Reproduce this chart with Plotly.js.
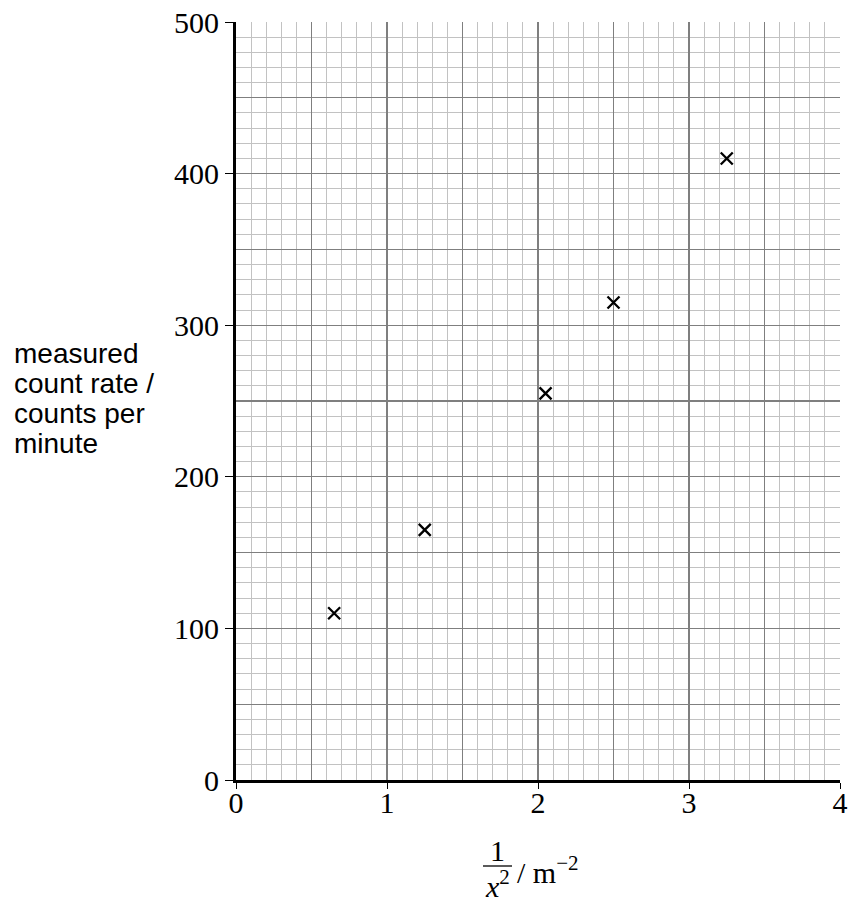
<!DOCTYPE html>
<html>
<head>
<meta charset="utf-8">
<script src="https://cdn.plot.ly/plotly-3.0.1.min.js"></script>
<style>html,body{margin:0;padding:0;background:#fff;}#chart{width:848px;height:902px;}</style>
</head>
<body>
<div id="chart"></div>
<script>
const invDistSq = [0.65, 1.25, 2.05, 2.5, 3.25];
const countRate = [110, 165, 255, 315, 410];
const xTicks = [0, 1, 2, 3, 4];
const yTicks = [0, 100, 200, 300, 400, 500];
const yTitleLines = ['measured', 'count rate /', 'counts per', 'minute'];

const L = 236, R = 8, T = 22, B = 122, W = 848, H = 902;
const pw = W - L - R, ph = H - T - B;
const px = v => (v - L) / pw;
const py = v => (H - B - v) / ph;

const serif = 'Liberation Serif, Times New Roman, serif';
const sans = 'Liberation Sans, Arial, sans-serif';
const majorGrid = '#7f7f7f', minorGrid = '#c2c2c2';

const data = [
  {x: [], y: [], xaxis: 'x2', yaxis: 'y2', type: 'scatter', showlegend: false, hoverinfo: 'skip'},
  {
    x: invDistSq, y: countRate, type: 'scatter', mode: 'markers',
    marker: {symbol: 'x-thin-open', size: 12, color: '#000', line: {color: '#000', width: 2.3}},
    showlegend: false
  }
];

const annotations = yTitleLines.map((t, i) => ({
  xref: 'paper', yref: 'paper', x: px(12), y: py(353 + 30 * i),
  xanchor: 'left', yanchor: 'middle', showarrow: false, text: t,
  font: {family: sans, size: 28, color: '#000'}
}));
annotations.push(
  {xref: 'paper', yref: 'paper', x: px(497.5), y: py(850), xanchor: 'center', yanchor: 'middle',
   showarrow: false, text: '1', font: {family: serif, size: 30, color: '#000'}},
  {xref: 'paper', yref: 'paper', x: px(497.5), y: py(884), xanchor: 'center', yanchor: 'middle',
   showarrow: false, text: '<i>x</i><sup>2</sup>', font: {family: serif, size: 30, color: '#000'}},
  {xref: 'paper', yref: 'paper', x: px(515), y: py(870), xanchor: 'left', yanchor: 'middle',
   showarrow: false, text: '/ m<sup>−2</sup>', font: {family: serif, size: 30, color: '#000'}}
);

const layout = {
  width: W, height: H,
  margin: {l: L, r: R, t: T, b: B},
  paper_bgcolor: '#fff', plot_bgcolor: '#fff',
  showlegend: false,
  xaxis: {
    range: [0, 4], tickvals: xTicks, ticktext: xTicks.map(String),
    showgrid: true, gridcolor: majorGrid, gridwidth: 1.3,
    minor: {dtick: 0.1, showgrid: true, gridcolor: minorGrid, gridwidth: 1},
    showline: true, linecolor: '#000', linewidth: 3,
    ticks: 'outside', ticklen: 6, tickcolor: '#000', tickwidth: 1,
    ticklabelstandoff: -12,
    tickfont: {family: serif, size: 30, color: '#000'},
    zeroline: false, fixedrange: true
  },
  yaxis: {
    range: [0, 500], tickvals: yTicks, ticktext: yTicks.map(String),
    showgrid: true, gridcolor: majorGrid, gridwidth: 1.3,
    minor: {dtick: 10, showgrid: true, gridcolor: minorGrid, gridwidth: 1},
    showline: true, linecolor: '#000', linewidth: 3,
    ticks: 'outside', ticklen: 8, tickcolor: '#000', tickwidth: 1,
    tickfont: {family: serif, size: 30, color: '#000'},
    zeroline: false, fixedrange: true
  },
  xaxis2: {
    overlaying: 'x', range: [0, 4], dtick: 0.5, showgrid: true,
    gridcolor: majorGrid, gridwidth: 1.3, showticklabels: false, ticks: '',
    zeroline: false, fixedrange: true
  },
  yaxis2: {
    overlaying: 'y', range: [0, 500], dtick: 50, showgrid: true,
    gridcolor: majorGrid, gridwidth: 1.3, showticklabels: false, ticks: '',
    zeroline: false, fixedrange: true
  },
  annotations: annotations,
  shapes: [
    {type: 'line', xref: 'paper', yref: 'paper', x0: px(483), x1: px(512), y0: py(866), y1: py(866),
     line: {color: '#000', width: 1.3}}
  ]
};

Plotly.newPlot('chart', data, layout, {displayModeBar: false, staticPlot: true});
</script>
</body>
</html>
